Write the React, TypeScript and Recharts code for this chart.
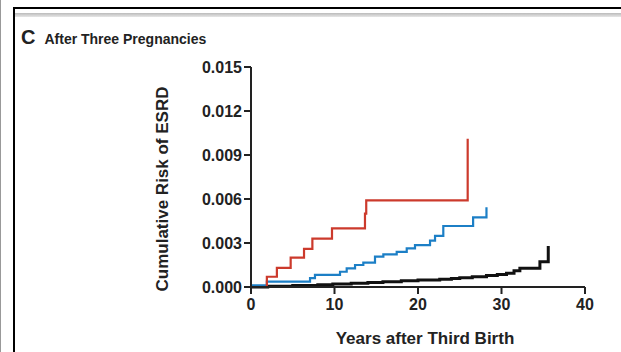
import React from 'react';
import { LineChart, Line, XAxis, YAxis } from 'recharts';

// years after third birth / cumulative risk
const redYears = [0, 1.9, 3.1, 4.75, 6.35, 7.35, 9.7, 13.65, 13.8, 25.95];
const redRisk = [0, 0.0007, 0.0013, 0.002, 0.0026, 0.0033, 0.004, 0.005, 0.0059, 0.0101];

const blueYears = [0, 1.9, 7.07, 7.66, 10.66, 11.46, 12.46, 13.45, 14.85, 15.85, 17.45, 18.65, 19.64, 21.44, 22.04, 23.03, 26.6, 28.2];
const blueRisk = [0.00012, 0.00036, 0.0006, 0.00082, 0.00104, 0.00127, 0.0015, 0.00166, 0.00207, 0.00223, 0.0024, 0.00264, 0.00286, 0.00316, 0.00348, 0.00416, 0.00475, 0.00543];

const blackYears = [0, 2, 5, 8, 9.8, 12, 14, 15.8, 18, 20, 22.6, 24, 25, 26.5, 28.2, 29.5, 30.6, 31.5, 32.2, 34.6, 35.6];
const blackRisk = [0, 0.00005, 0.0001, 0.00015, 0.0002, 0.00025, 0.0003, 0.00036, 0.00042, 0.00047, 0.00052, 0.00058, 0.00063, 0.0007, 0.00078, 0.00085, 0.00093, 0.0011, 0.00127, 0.00173, 0.0028];

const xTicks = [0, 10, 20, 30, 40];
const yTicks = [0, 0.003, 0.006, 0.009, 0.012, 0.015];

const toRows = (years: number[], risk: number[]) =>
    years.map((year, i) => ({ year, risk: risk[i] }));

const FONT = '"Liberation Sans", Arial, sans-serif';
const INK = '#222';

export default function App() {
    const tickStyle = { fill: INK, fontSize: 16, fontWeight: 700, fontFamily: FONT };
    return (
        <div style={{ position: 'fixed', left: 0, top: 0, width: 621, height: 352, background: '#fff', overflow: 'hidden' }}>
            {/* frame */}
            <div style={{ position: 'absolute', left: 0, top: 0, width: 1, height: 352, background: '#999' }} />
            <div style={{ position: 'absolute', left: 13, top: 7, width: 2, height: 345, background: '#000' }} />
            <div style={{ position: 'absolute', left: 13, top: 7, width: 608, height: 2, background: '#000' }} />
            <div style={{ position: 'absolute', left: 15, top: 13, width: 606, height: 4, background: 'linear-gradient(#bbb, #e6e6e6)' }} />

            <div style={{ position: 'absolute', left: 21, top: 26, fontFamily: FONT, fontWeight: 700, color: INK, whiteSpace: 'nowrap' }}>
                <span style={{ fontSize: 20 }}>C</span>
                <span style={{ fontSize: 14, marginLeft: 9 }}>After Three Pregnancies</span>
            </div>

            <div style={{ position: 'absolute', left: 163 - 125, top: 189 - 10, width: 250, height: 20, lineHeight: '20px', textAlign: 'center', transform: 'rotate(-90deg)', fontFamily: FONT, fontWeight: 700, fontSize: 17, color: INK }}>
                Cumulative Risk of ESRD
            </div>
            <div style={{ position: 'absolute', left: 325, top: 329, width: 200, textAlign: 'center', fontFamily: FONT, fontWeight: 700, fontSize: 17, color: INK }}>
                Years after Third Birth
            </div>

            <div style={{ position: 'absolute', left: 0, top: 0 }}>
                <LineChart width={621} height={352} margin={{ top: 67, right: 36, left: 191, bottom: 35 }}>
                    <XAxis
                        type="number"
                        dataKey="year"
                        domain={[0, 40]}
                        ticks={xTicks}
                        allowDataOverflow
                        height={30}
                        tickSize={7}
                        stroke={INK}
                        strokeWidth={2}
                        tick={{ ...tickStyle, dy: 3 }}
                    />
                    <YAxis
                        type="number"
                        domain={[0, 0.015]}
                        ticks={yTicks}
                        width={60}
                        tickSize={7}
                        stroke={INK}
                        strokeWidth={2}
                        tick={tickStyle}
                        tickFormatter={(v: number) => v.toFixed(3)}
                    />
                    <Line data={toRows(blackYears, blackRisk)} dataKey="risk" type="stepAfter" stroke="#111" strokeWidth={3} dot={false} isAnimationActive={false} />
                    <Line data={toRows(blueYears, blueRisk)} dataKey="risk" type="stepAfter" stroke="#1c7fc6" strokeWidth={2.2} dot={false} isAnimationActive={false} />
                    <Line data={toRows(redYears, redRisk)} dataKey="risk" type="stepAfter" stroke="#cc3a2c" strokeWidth={2.2} dot={false} isAnimationActive={false} />
                </LineChart>
            </div>
        </div>
    );
}
